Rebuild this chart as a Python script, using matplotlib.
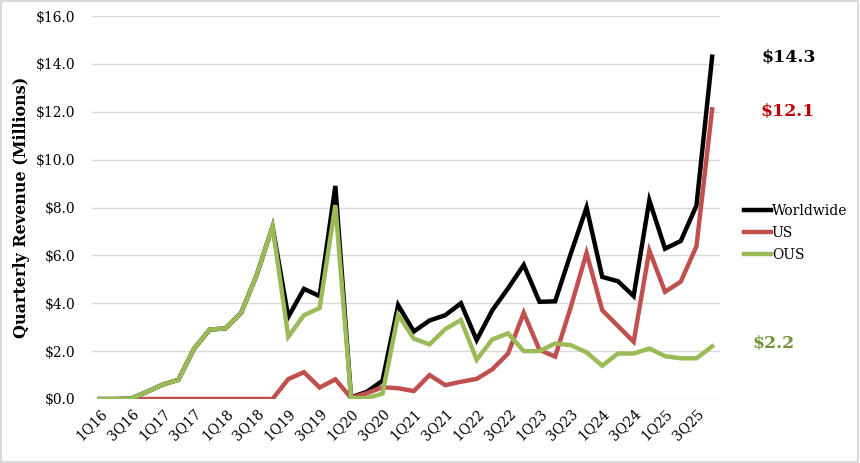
import matplotlib
matplotlib.use("Agg")
import matplotlib.pyplot as plt
import numpy as np
from matplotlib.patches import Rectangle

quarters = [f"{q}Q{y}" for y in range(16, 26) for q in range(1, 5)]

worldwide = [0.0, 0.0, 0.02, 0.3, 0.6, 0.8, 2.1, 2.9, 2.95, 3.6, 5.2, 7.2,
             3.43, 4.6, 4.3, 8.9, 0.07, 0.3, 0.76, 3.92,
             2.82, 3.28, 3.5, 4.0, 2.46, 3.71, 4.62, 5.6,
             4.06, 4.08, 6.08, 8.0, 5.1, 4.92, 4.3, 8.3,
             6.28, 6.6, 8.08, 14.3]
us = [np.nan, np.nan, 0.0, 0.0, 0.0, 0.0, 0.0, 0.0, 0.0, 0.0, 0.0, 0.0,
      0.83, 1.12, 0.48, 0.82, 0.05, 0.24, 0.49, 0.45,
      0.33, 1.0, 0.58, 0.72, 0.84, 1.24, 1.9, 3.6,
      2.05, 1.77, 3.85, 6.1, 3.71, 3.05, 2.39, 6.2,
      4.48, 4.9, 6.38, 12.1]
ous = [0.0, 0.0, 0.02, 0.3, 0.6, 0.8, 2.1, 2.9, 2.95, 3.6, 5.2, 7.2,
       2.6, 3.5, 3.8, 8.1, 0.04, 0.04, 0.22, 3.52,
       2.52, 2.28, 2.92, 3.3, 1.64, 2.49, 2.74, 2.0,
       2.0, 2.32, 2.25, 1.95, 1.39, 1.9, 1.9, 2.11,
       1.79, 1.7, 1.7, 2.2]
end_labels = ["$14.3", "$12.1", "$2.2"]

plt.rcParams['font.family'] = ['DejaVu Serif']

fig = plt.figure(figsize=(8.6, 4.63), dpi=100)
ax = fig.add_axes([92/860, 1-399/463, (720-92)/860, (399-16)/463])

x = np.arange(len(quarters))
c_w, c_us, c_ous = "#000000", "#C0504D", "#9BBB59"
lw = 3.2
ax.plot(x, worldwide, color=c_w, lw=lw, label="Worldwide", solid_joinstyle='miter', zorder=3)
ax.plot(x, us, color=c_us, lw=lw, label="US", solid_joinstyle='miter', zorder=4)
ax.plot(x, ous, color=c_ous, lw=lw, label="OUS", solid_joinstyle='miter', zorder=5)

ax.set_xlim(-0.5, len(quarters) - 0.5)
ax.set_ylim(0, 16)
ax.set_yticks(np.arange(0, 17, 2))
ax.set_yticklabels([f"${v:.1f}" for v in np.arange(0, 17, 2)], fontsize=10)
ax.set_xticks(x[::2])
ax.set_xticklabels(quarters[::2], rotation=45, ha='right', rotation_mode='anchor', fontsize=10)
ax.tick_params(length=0)
ax.tick_params(axis='y', pad=12)
ax.tick_params(axis='x', pad=5)
for s in ax.spines.values():
    s.set_visible(False)
ax.grid(axis='y', color='#D9D9D9', lw=1)
ax.set_axisbelow(True)
ax.set_ylabel("Quarterly Revenue (Millions)", fontsize=11.5, fontweight='bold', labelpad=4)

leg = fig.legend(loc='center left', bbox_to_anchor=(744/860, 1-233/463),
                 bbox_transform=fig.transFigure, frameon=False, fontsize=10,
                 handlelength=1.95, handletextpad=0.05, borderpad=0, borderaxespad=0,
                 labelspacing=0.55)

fig.text(789/860, 1-57/463, end_labels[0], color="#000000", fontsize=12.5,
         fontweight='bold', ha='center', va='center')
fig.text(788/860, 1-112/463, end_labels[1], color="#C00000", fontsize=12.5,
         fontweight='bold', ha='center', va='center')
fig.text(774/860, 1-343/463, end_labels[2], color="#77933C", fontsize=12.5,
         fontweight='bold', ha='center', va='center')

fig.patches.append(Rectangle((0.001, 0.002), 0.997, 0.996, transform=fig.transFigure,
                             fill=False, edgecolor='#D9D9D9', lw=1.5))

fig.savefig("out.png", dpi=100)
